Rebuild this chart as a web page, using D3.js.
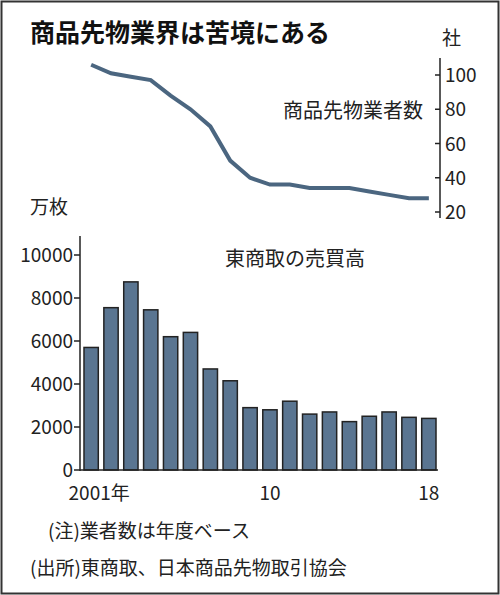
<!DOCTYPE html><html><head><meta charset="utf-8"><script src="https://cdn.jsdelivr.net/npm/d3@7"></script>
<style>body{margin:0;background:#fff}text{font-family:"Noto Sans CJK JP","Noto Sans",sans-serif}</style></head><body>
<svg id="c" width="500" height="595"></svg>
<script>
const years=d3.range(2001,2019);
const traders=[106,101,99,97,88,80,70,50,40,36,36,34,34,34,32,30,28,28];
const volume=[5700,7550,8750,7450,6200,6400,4700,4150,2900,2800,3200,2600,2700,2250,2500,2700,2450,2400];
const traderTicks=[20,40,60,80,100];
const volumeTicks=[0,2000,4000,6000,8000,10000];
const xTickLabels={2001:"2001年",2010:"10",2018:"18"};
const svg=d3.select("#c");
svg.append("rect").attr("x",1.5).attr("y",1.5).attr("width",497).attr("height",592).attr("fill","none").attr("stroke","#333").attr("stroke-width",2);
svg.append("text").attr("x",30).attr("y",42).attr("font-size",25).attr("font-weight","bold").attr("fill","#111").text("商品先物業界は苦境にある");
const x=d3.scaleBand().domain(years).range([83,437]).paddingInner(0.28).paddingOuter(0.05);
const yT=d3.scaleLinear().domain([20,100]).range([212,75]);
const ax=svg.append("g").attr("transform","translate(440,0)");
ax.append("line").attr("y1",58).attr("y2",218).attr("stroke","#222").attr("stroke-width",1.5);
traderTicks.forEach(t=>{ax.append("line").attr("x1",0).attr("x2",-5).attr("y1",yT(t)).attr("y2",yT(t)).attr("stroke","#222").attr("stroke-width",1.5);
 ax.append("text").attr("x",5).attr("y",yT(t)+7).attr("font-size",19).attr("fill","#222").text(t);});
svg.append("text").attr("x",442).attr("y",45).attr("font-size",19).attr("fill","#222").text("社");
svg.append("path").datum(traders).attr("fill","none").attr("stroke","#4b6680").attr("stroke-width",4)
 .attr("d",d3.line().x((d,i)=>x(years[i])+x.bandwidth()/2).y(d=>yT(d)));
svg.append("text").attr("x",423).attr("y",118).attr("text-anchor","end").attr("font-size",20).attr("fill","#222").text("商品先物業者数");
const yV=d3.scaleLinear().domain([0,10000]).range([470,255]);
svg.append("text").attr("x",30).attr("y",214).attr("font-size",19).attr("fill","#222").text("万枚");
const g=svg.append("g");
g.append("line").attr("x1",80).attr("x2",80).attr("y1",236).attr("y2",471).attr("stroke","#222").attr("stroke-width",1.5);
volumeTicks.forEach(t=>{g.append("line").attr("x1",80).attr("x2",74).attr("y1",yV(t)).attr("y2",yV(t)).attr("stroke","#222").attr("stroke-width",1.5);
 g.append("text").attr("x",73).attr("y",yV(t)+7).attr("text-anchor","end").attr("font-size",19).attr("fill","#222").text(t);});
g.selectAll("rect.b").data(volume).enter().append("rect").attr("x",(d,i)=>x(years[i])).attr("width",x.bandwidth())
 .attr("y",d=>yV(d)).attr("height",d=>yV(0)-yV(d)).attr("fill","#5a7591").attr("stroke","#222").attr("stroke-width",1.5);
g.append("line").attr("x1",80).attr("x2",438).attr("y1",470).attr("y2",470).attr("stroke","#222").attr("stroke-width",1.5);
Object.entries(xTickLabels).forEach(([yr,l])=>{g.append("text").attr("x",x(+yr)+x.bandwidth()/2+(+yr===2001?8:0)).attr("y",500).attr("text-anchor","middle").attr("font-size",19).attr("fill","#222").text(l);});
svg.append("text").attr("x",295).attr("y",266).attr("text-anchor","middle").attr("font-size",20).attr("fill","#222").text("東商取の売買高");
svg.append("text").attr("x",48).attr("y",538).attr("font-size",19).attr("fill","#222").text("(注)業者数は年度ベース");
svg.append("text").attr("x",30).attr("y",575).attr("font-size",19).attr("fill","#222").text("(出所)東商取、日本商品先物取引協会");
</script></body></html>
